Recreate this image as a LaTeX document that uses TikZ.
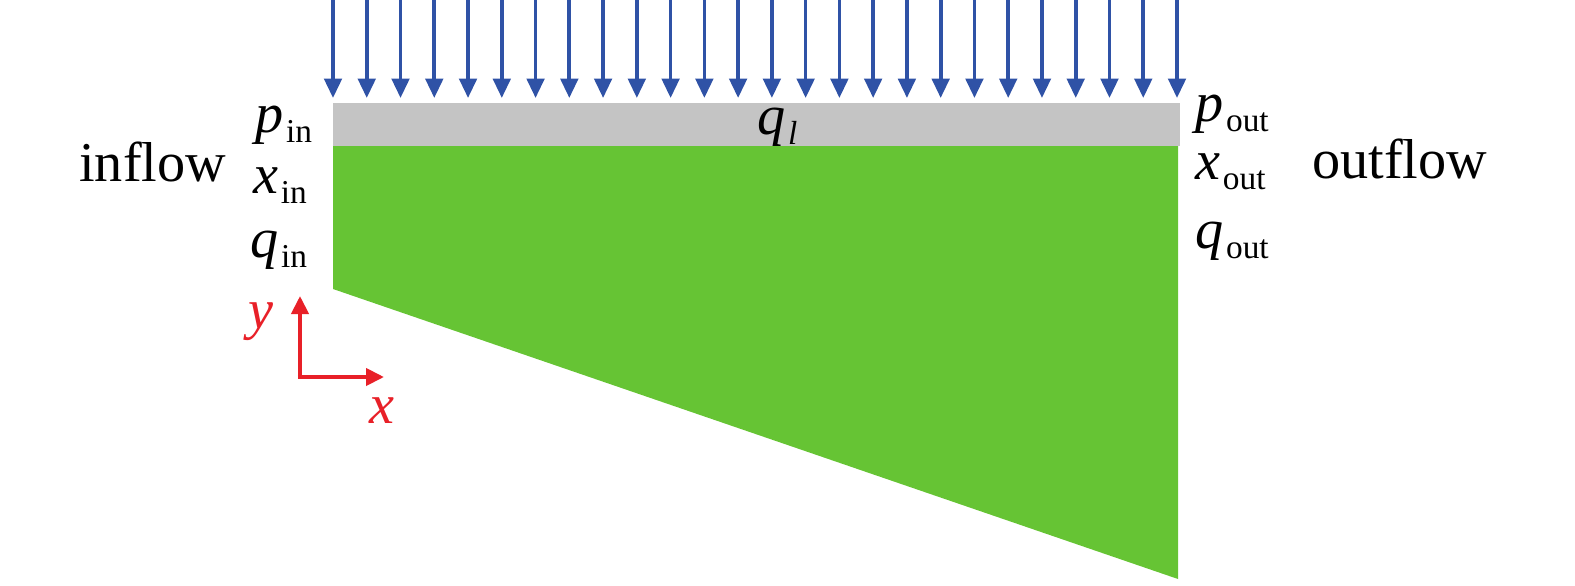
\documentclass[tikz,border=0pt]{standalone}
\usepackage{fontspec}
\setmainfont{Liberation Serif}
\usetikzlibrary{arrows.meta}
\definecolor{loadblue}{RGB}{47,82,166}
\definecolor{bedgreen}{RGB}{102,196,52}
\definecolor{capgray}{RGB}{196,196,196}
\definecolor{axisred}{RGB}{232,32,40}
% italic symbol with upright subscript
\newcommand{\symsub}[2]{\textit{#1}\kern1.5pt\raisebox{-6pt}{\fontsize{19}{19}\selectfont #2}}
\tikzset{
  load/.style={loadblue,line width=2.1pt,-{Triangle[width=0.35cm,length=0.39cm]}},
  axis/.style={axisred,line width=2.3pt,-{Triangle[width=0.34cm,length=0.36cm]}},
  lbl/.style={inner sep=0pt,anchor=base west,font=\fontsize{32}{32}\selectfont},
}
\begin{document}
\begin{tikzpicture}[x=0.02cm,y=-0.02cm]
\useasboundingbox (0,0) rectangle (1575,585);
% wedge and cap
\fill [bedgreen] (333,146) -- (1178,146) -- (1178,579) -- (333,289) -- cycle;
\fill [capgray] (333,103) rectangle (1180,146);
% distributed inflow
\foreach \i in {0,...,25}{
  \coordinate (top\i) at ({333+\i*33.76},-2);
  \coordinate (tip\i) at ({333+\i*33.76},98);
  \draw [load] (top\i) -- (tip\i);
}
\node [lbl] (ql) at (757,134) {\symsub{q}{\textit{l}}};
% boundary values
\node [lbl] (pin) at (255,132) {\symsub{p}{in}};
\node [lbl] (xin) at (253,193) {\symsub{x}{in}};
\node [lbl] (qin) at (250,257) {\symsub{q}{in}};
\node [lbl] (pout) at (1195,121) {\symsub{p}{out}};
\node [lbl] (xout) at (1195,179) {\symsub{x}{out}};
\node [lbl] (qout) at (1195,248) {\symsub{q}{out}};
\node [lbl] (inflow) at (79,181) {inflow};
\node [lbl] (outflow) at (1312,178) {outflow};
% axes
\coordinate (origin) at (300,377);
\coordinate (ytip) at (300,296);
\coordinate (xtip) at (384,377);
\draw [axis] (origin) -- (ytip);
\draw [axis] ([xshift=-1.15pt]origin) -- (xtip);
\node [lbl,axisred] (ylab) at (248,328) {\textit{y}};
\node [lbl,axisred] (xlab) at (369,423) {\textit{x}};
\end{tikzpicture}
\end{document}
